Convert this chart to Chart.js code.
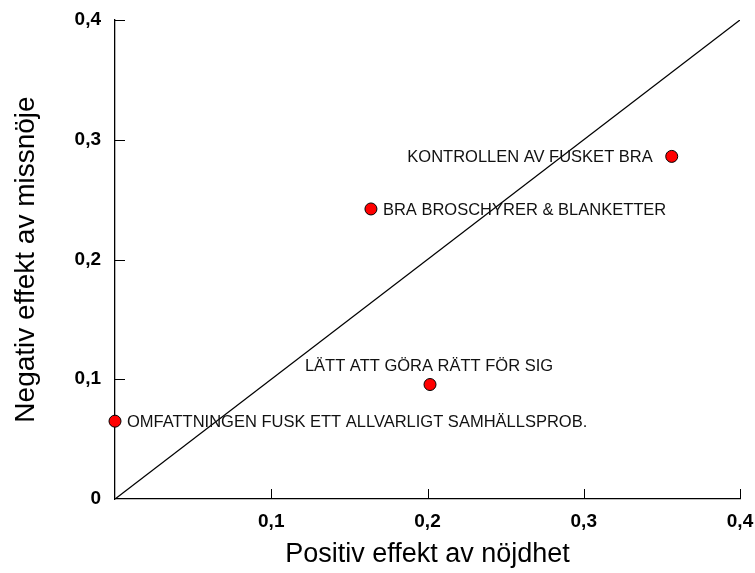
<!DOCTYPE html>
<html>
<head>
<meta charset="utf-8">
<script src="https://cdn.jsdelivr.net/npm/chart.js@4.4.1/dist/chart.umd.min.js"></script>
<style>
    html, body { margin: 0; padding: 0; background: #fff; }
    #wrap { width: 755px; height: 573px; }
</style>
</head>
<body>
<div id="wrap"><canvas id="chart"></canvas></div>
<script>
const pointLabels = [
    'OMFATTNINGEN FUSK ETT ALLVARLIGT SAMHÄLLSPROB.',
    'LÄTT ATT GÖRA RÄTT FÖR SIG',
    'BRA BROSCHYRER & BLANKETTER',
    'KONTROLLEN AV FUSKET BRA'
];
const positiveEffect = [0.0, 0.2016, 0.1638, 0.3563];
const negativeEffect = [0.065, 0.0956, 0.2422, 0.2861];
const diagonalX = [0, 0.4];
const diagonalY = [0, 0.4];
const tickValues = [0, 0.1, 0.2, 0.3, 0.4];

// where each label sits relative to its point
const labelSide = ['right', 'above', 'right', 'left'];

const fontFamily = "Arial, 'Liberation Sans', sans-serif";

function fmt(v) {
    if (Math.abs(v) < 1e-9) return '0';
    return v.toFixed(1).replace('.', ',');
}

const innerTicks = {
    id: 'innerTicks',
    afterDatasetsDraw(chart) {
        const ctx = chart.ctx;
        const xs = chart.scales.x;
        const ys = chart.scales.y;
        const len = 10;
        ctx.save();
        ctx.strokeStyle = '#000';
        ctx.lineWidth = 1;
        tickValues.forEach(v => {
            if (v === 0) return;
            const py = Math.round(ys.getPixelForValue(v)) + 0.5;
            ctx.beginPath();
            ctx.moveTo(chart.chartArea.left, py);
            ctx.lineTo(chart.chartArea.left + len, py);
            ctx.stroke();
            const px = Math.round(xs.getPixelForValue(v)) + 0.5;
            ctx.beginPath();
            ctx.moveTo(px, chart.chartArea.bottom);
            ctx.lineTo(px, chart.chartArea.bottom - len);
            ctx.stroke();
        });
        ctx.restore();
    }
};

const pointText = {
    id: 'pointText',
    afterDatasetsDraw(chart) {
        const ctx = chart.ctx;
        const meta = chart.getDatasetMeta(1);
        ctx.save();
        ctx.font = '16.5px ' + fontFamily;
        ctx.fillStyle = '#111';
        ctx.textBaseline = 'middle';
        meta.data.forEach((el, i) => {
            const side = labelSide[i];
            if (side === 'right') {
                ctx.textAlign = 'left';
                ctx.fillText(pointLabels[i], el.x + 12, el.y + 1);
            } else if (side === 'left') {
                ctx.textAlign = 'right';
                ctx.fillText(pointLabels[i], el.x - 19, el.y + 1);
            } else {
                ctx.textAlign = 'center';
                ctx.fillText(pointLabels[i], el.x - 1, el.y - 18);
            }
        });
        ctx.restore();
    }
};

new Chart(document.getElementById('chart'), {
    type: 'scatter',
    data: {
        datasets: [{
            label: 'diagonal',
            data: diagonalX.map((x, i) => ({ x: x, y: diagonalY[i] })),
            showLine: true,
            borderColor: '#000',
            borderWidth: 1.3,
            pointRadius: 0,
            order: 2
        }, {
            label: 'punkter',
            data: positiveEffect.map((x, i) => ({ x: x, y: negativeEffect[i] })),
            backgroundColor: '#ff0000',
            borderColor: '#000',
            borderWidth: 1,
            pointRadius: 6,
            clip: false,
            order: 1
        }]
    },
    options: {
        responsive: true,
        maintainAspectRatio: false,
        animation: false,
        layout: { padding: { top: 20, right: 15, left: 0, bottom: 0 } },
        plugins: {
            legend: { display: false },
            tooltip: { enabled: false }
        },
        scales: {
            x: {
                type: 'linear',
                min: 0,
                max: 0.4,
                grid: { display: false, drawTicks: false },
                border: { display: true, color: '#000', width: 1.3 },
                afterFit: scale => {
                    scale.height = 74;
                    scale.paddingLeft = 0;
                    scale.paddingRight = 0;
                },
                afterBuildTicks: scale => { scale.ticks = tickValues.map(v => ({ value: v })); },
                ticks: {
                    padding: 11,
                    color: '#000',
                    font: { family: fontFamily, size: 19, weight: 'bold' },
                    callback: v => (v === 0 ? '' : fmt(v))
                },
                title: {
                    display: true,
                    text: 'Positiv effekt av nöjdhet',
                    color: '#000',
                    font: { family: fontFamily, size: 27 },
                    padding: { top: 0, bottom: 2 }
                }
            },
            y: {
                type: 'linear',
                min: 0,
                max: 0.4,
                grid: { display: false, drawTicks: false },
                border: { display: true, color: '#000', width: 1.3 },
                afterFit: scale => {
                    scale.width = 115;
                    scale.paddingTop = 0;
                    scale.paddingBottom = 0;
                },
                afterBuildTicks: scale => { scale.ticks = tickValues.map(v => ({ value: v })); },
                ticks: {
                    padding: 14,
                    color: '#000',
                    font: { family: fontFamily, size: 19, weight: 'bold' },
                    callback: v => fmt(v)
                },
                title: {
                    display: true,
                    text: 'Negativ effekt av missnöje',
                    color: '#000',
                    font: { family: fontFamily, size: 28 },
                    padding: { top: 9, bottom: 0 }
                }
            }
        }
    },
    plugins: [innerTicks, pointText]
});
</script>
</body>
</html>
